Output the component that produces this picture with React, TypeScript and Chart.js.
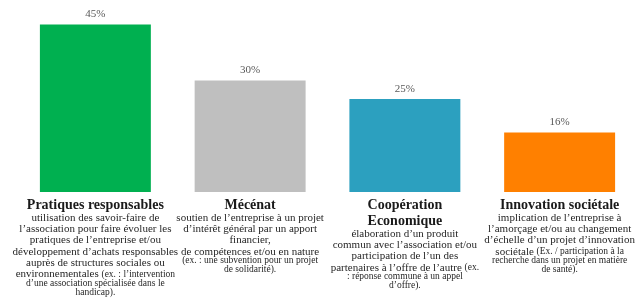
import { useEffect, useRef } from "react";
import { Chart, registerables } from "chart.js";

Chart.register(...registerables);

const categories = ["Pratiques responsables", "Mécénat", "Coopération Economique", "Innovation sociétale"];
const titleLines = [["Pratiques responsables"], ["Mécénat"], ["Coopération", "Economique"], ["Innovation sociétale"]];
const values = [45, 30, 25, 16];
const valueLabels = ["45%", "30%", "25%", "16%"];
const barColors = ["#00B050", "#BFBFBF", "#2CA0BF", "#FF8000"];
// "|" marks the start of the smaller-print part of a line
const descriptions = [
  [
    "utilisation des savoir-faire de",
    "l’association pour faire évoluer les",
    "pratiques de l’entreprise et/ou",
    "développement d’achats responsables",
    "auprès de structures sociales ou",
    "environnementales |(ex. : l’intervention",
    "|d’une association spécialisée dans le",
    "|handicap).",
  ],
  [
    "soutien de l’entreprise à un projet",
    "d’intérêt général par un apport",
    "financier,",
    "de compétences et/ou en nature",
    "|(ex. : une subvention pour un projet",
    "|de solidarité).",
  ],
  [
    "élaboration d’un produit",
    "commun avec l’association et/ou",
    "participation de l’un des",
    "partenaires à l’offre de l’autre |(ex.",
    "|: réponse commune à un appel",
    "|d’offre).",
  ],
  [
    "implication de l’entreprise à",
    "l’amorçage et/ou au changement",
    "d’échelle d’un projet d’innovation",
    "sociétale |(Ex. / participation à la",
    "|recherche dans un projet en matière",
    "|de santé).",
  ],
];

const FONT = "'Liberation Serif', 'Times New Roman', serif";

const labelPlugin = {
  id: "customLabels",
  afterDatasetsDraw(chart: any) {
    const ctx = chart.ctx;
    const meta = chart.getDatasetMeta(0);
    const xScale = chart.scales.x;
    const yScale = chart.scales.y;
    const base = yScale.getPixelForValue(0);
    ctx.save();
    ctx.textBaseline = "middle";
    // value labels
    ctx.fillStyle = "#595959";
    ctx.font = `11px ${FONT}`;
    ctx.textAlign = "center";
    meta.data.forEach((bar: any, i: number) => {
      ctx.fillText(valueLabels[i], bar.x, bar.y - 10);
    });
    // category labels
    categories.forEach((_c, i) => {
      const cx = xScale.getPixelForValue(i);
      let y = base + 13;
      ctx.fillStyle = "#1a1a1a";
      ctx.font = `bold 14px ${FONT}`;
      ctx.textAlign = "center";
      titleLines[i].forEach((t, k) => {
        if (k > 0) y += 16;
        ctx.fillText(t, cx, y);
      });
      y += 13;
      ctx.fillStyle = "#262626";
      descriptions[i].forEach((line, k) => {
        const idx = line.indexOf("|");
        const normal = idx >= 0 ? line.slice(0, idx) : line;
        const small = idx >= 0 ? line.slice(idx + 1) : "";
        if (k > 0) y += normal.length === 0 ? 9 : 11.3;
        ctx.font = `11px ${FONT}`;
        const wN = ctx.measureText(normal).width;
        ctx.font = `9.5px ${FONT}`;
        const wS = ctx.measureText(small).width;
        let x = cx - (wN + wS) / 2;
        ctx.textAlign = "left";
        ctx.font = `11px ${FONT}`;
        if (normal) ctx.fillText(normal, x, y);
        x += wN;
        ctx.font = `9.5px ${FONT}`;
        if (small) ctx.fillText(small, x, y);
      });
    });
    ctx.restore();
  },
};

export default function App() {
  const ref = useRef<HTMLCanvasElement | null>(null);
  useEffect(() => {
    if (!ref.current) return;
    const chart = new Chart(ref.current, {
      type: "bar",
      data: {
        labels: categories,
        datasets: [
          {
            data: values,
            backgroundColor: barColors,
            borderWidth: 0,
            barPercentage: 0.717,
            categoryPercentage: 1,
          },
        ],
      },
      options: {
        animation: false,
        responsive: true,
        maintainAspectRatio: false,
        layout: { padding: { top: 6, bottom: 106, left: 18, right: 6 } },
        plugins: { legend: { display: false }, tooltip: { enabled: false } },
        scales: {
          x: { display: false },
          y: { display: false, min: 0, max: 50 },
        },
      },
      plugins: [labelPlugin],
    });
    return () => chart.destroy();
  }, []);
  return (
    <div style={{ position: "absolute", left: 0, top: 0, width: 643, height: 298, background: "#fff" }}>
      <canvas ref={ref} />
    </div>
  );
}
